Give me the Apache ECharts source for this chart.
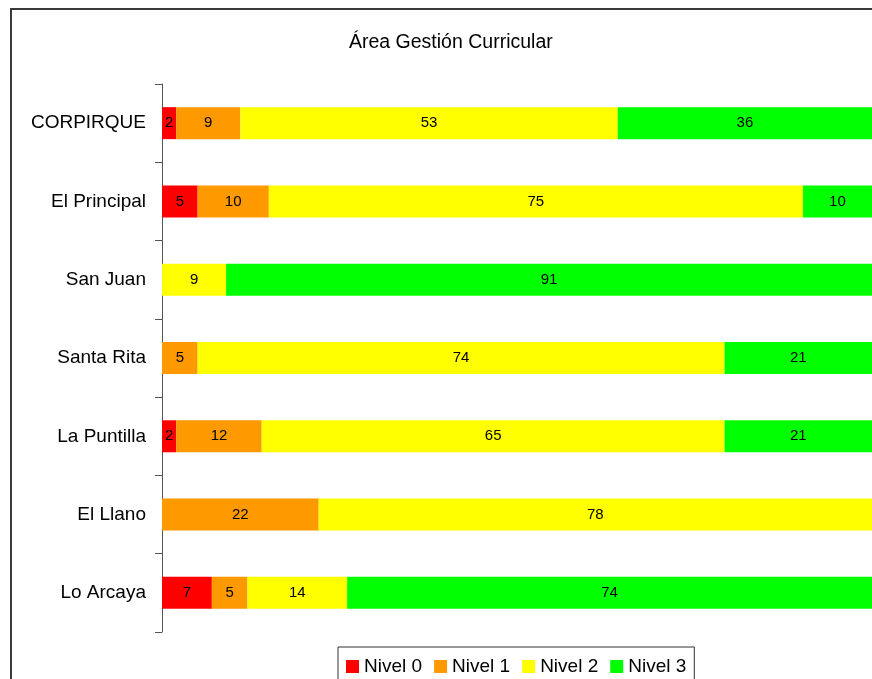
<!DOCTYPE html>
<html>
<head>
<meta charset="utf-8">
<script src="https://cdn.jsdelivr.net/npm/echarts@6/dist/echarts.min.js"></script>
<style>html,body{margin:0;padding:0;background:#fff;}#c{width:872px;height:679px;}</style>
</head>
<body>
<div id="c"></div>
<script>
const titleText = "Área Gestión Curricular";
const categories = ["CORPIRQUE", "El Principal", "San Juan", "Santa Rita", "La Puntilla", "El Llano", "Lo Arcaya"];
const seriesNames = ["Nivel 0", "Nivel 1", "Nivel 2", "Nivel 3"];
const nivel0 = [2, 5, 0, 0, 2, 0, 7];
const nivel1 = [9, 10, 0, 5, 12, 22, 5];
const nivel2 = [53, 75, 9, 74, 65, 78, 14];
const nivel3 = [36, 10, 91, 21, 21, 0, 74];
const colors = ["#FF0000", "#FF9900", "#FFFF00", "#00FF00"];

const FONT = "Liberation Sans, Arial, sans-serif";
const allValues = [nivel0, nivel1, nivel2, nivel3];

const chart = echarts.init(document.getElementById('c'));
chart.setOption({
  backgroundColor: '#ffffff',
  animation: false,
  title: {
    text: titleText,
    left: 344,
    top: 28,
    textStyle: { fontFamily: FONT, fontSize: 19.5, fontWeight: 'normal', color: '#000' }
  },
  graphic: [{
    type: 'rect',
    shape: { x: 11, y: 9, width: 900, height: 700 },
    style: { fill: 'none', stroke: '#3a3a3a', lineWidth: 2 },
    silent: true
  }],
  legend: {
    data: seriesNames,
    left: 338,
    top: 647,
    padding: [10, 8, 10, 8],
    itemWidth: 13,
    itemHeight: 13,
    itemGap: 12,
    icon: 'rect',
    borderColor: '#333',
    borderWidth: 1,
    textStyle: { fontFamily: FONT, fontSize: 19, color: '#000' }
  },
  grid: { left: 162, right: 0, top: 84, bottom: 47, containLabel: false },
  xAxis: {
    type: 'value', min: 0, max: 99.7, show: false
  },
  yAxis: {
    type: 'category',
    data: categories,
    inverse: true,
    axisLine: { show: true, lineStyle: { color: '#555', width: 1 } },
    axisTick: { show: true, length: 7, lineStyle: { color: '#555' } },
    axisLabel: { fontFamily: FONT, fontSize: 19, color: '#000', margin: 16, padding: [4, 0, 0, 0] },
    splitLine: { show: false }
  },
  series: seriesNames.map((name, i) => ({
    name: name,
    type: 'bar',
    stack: 'total',
    barWidth: 32,
    data: allValues[i],
    itemStyle: { color: colors[i] },
    label: {
      show: true,
      position: 'inside',
      fontFamily: FONT,
      fontSize: 15,
      color: '#000',
      padding: [3, 0, 0, 0],
      formatter: p => (p.value ? String(p.value) : '')
    }
  }))
});
</script>
</body>
</html>
